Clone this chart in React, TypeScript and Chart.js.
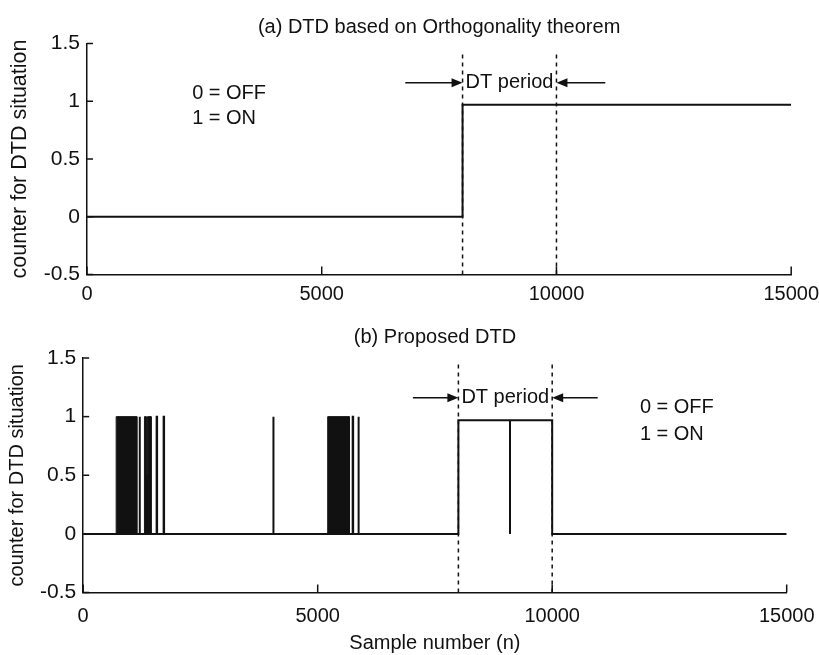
import React, { useEffect, useRef } from "react";
import { Chart, registerables } from "chart.js";
Chart.register(...registerables);

// ---------- shared axes ----------
const X_MIN = 0;
const X_MAX = 15000;
const X_STEP = 5000;
const Y_MIN = -0.5;
const Y_MAX = 1.5;
const Y_STEP = 0.5;

// ---------- (a) DTD based on Orthogonality theorem ----------
const titleA = "(a) DTD based on Orthogonality theorem";
const stepAtA = 8000;
const offLevelA = 0;
const onLevelA = 0.97;

// ---------- (b) Proposed DTD ----------
const titleB = "(b) Proposed DTD";
// isolated ON pulses (start, end, level)
const pulseStart = [1200, 1566, 1715, 4050, 5746, 5866, 8000, 9100];
const pulseEnd = [1210, 1576, 1725, 4060, 5756, 5876, 9100, 10000];
const pulseLevel = [1, 1, 1, 1, 1, 1, 0.97, 0.97];
// dense toggling bursts (appear as solid blocks)
const burstStart = [703, 1306, 1342, 1370, 5213];
const burstEnd = [1144, 1342, 1370, 1448, 5673];
const burstLevel = [1, 1, 0.5, 1, 1];

// ---------- annotations ----------
const dtStart = 8000;
const dtEnd = 10000;
const dashTopA = 1.41;
const dashTopB = 1.45;
const arrowYA = 1.16;
const arrowYB = 1.16;
const arrowTailA = [6780, 11040];
const arrowTailB = [7030, 10970];
const legendPosA = [2240, 1.07, 0.85];
const legendPosB = [11870, 1.08, 0.845];
const legendLines = ["0 = OFF", "1 = ON"];
const dtLabel = "DT period";
const yTitle = "counter for DTD situation";
const xTitle = "Sample number (n)";

const FONT = "'Liberation Sans', Arial, Helvetica, sans-serif";
const INK = "#111";

function pts(xs: number[], ys: number[]) {
  return xs.map((x, i) => ({ x, y: ys[i] }));
}

function dashDataset(x: number, top: number) {
  return {
    data: [{ x, y: Y_MIN }, { x, y: top }],
    borderColor: INK,
    borderWidth: 1.5,
    borderDash: [4, 4],
    pointRadius: 0,
    fill: false,
  };
}

function decorPlugin(arrowY: number, tails: number[], legend: number[]) {
  return {
    id: "decor",
    afterDraw(chart: any) {
      const { ctx, chartArea, scales } = chart;
      const xs = scales.x;
      const ys = scales.y;
      ctx.save();
      ctx.strokeStyle = INK;
      ctx.fillStyle = INK;
      ctx.lineWidth = 1.5;
      // inward ticks (MATLAB style)
      ys.ticks.forEach((t: any) => {
        const py = ys.getPixelForValue(t.value);
        ctx.beginPath();
        ctx.moveTo(chartArea.left, py);
        ctx.lineTo(chartArea.left + 6, py);
        ctx.stroke();
      });
      xs.ticks.forEach((t: any) => {
        const px = xs.getPixelForValue(t.value);
        ctx.beginPath();
        ctx.moveTo(px, chartArea.bottom);
        ctx.lineTo(px, chartArea.bottom - 8);
        ctx.stroke();
      });
      // arrows
      const py = ys.getPixelForValue(arrowY);
      const p0 = xs.getPixelForValue(dtStart);
      const p1 = xs.getPixelForValue(dtEnd);
      const a0 = xs.getPixelForValue(tails[0]);
      const a1 = xs.getPixelForValue(tails[1]);
      ctx.lineWidth = 1.5;
      ctx.beginPath();
      ctx.moveTo(a0, py);
      ctx.lineTo(p0 - 8, py);
      ctx.moveTo(p1 + 8, py);
      ctx.lineTo(a1, py);
      ctx.stroke();
      ctx.beginPath();
      ctx.moveTo(p0, py);
      ctx.lineTo(p0 - 11, py - 4.5);
      ctx.lineTo(p0 - 11, py + 4.5);
      ctx.closePath();
      ctx.fill();
      ctx.beginPath();
      ctx.moveTo(p1, py);
      ctx.lineTo(p1 + 11, py - 4.5);
      ctx.lineTo(p1 + 11, py + 4.5);
      ctx.closePath();
      ctx.fill();
      // texts
      ctx.font = `20px ${FONT}`;
      ctx.textBaseline = "middle";
      ctx.textAlign = "center";
      ctx.fillText(dtLabel, (p0 + p1) / 2, py);
      ctx.textAlign = "left";
      const lx = xs.getPixelForValue(legend[0]);
      ctx.fillText(legendLines[0], lx, ys.getPixelForValue(legend[1]));
      ctx.fillText(legendLines[1], lx, ys.getPixelForValue(legend[2]));
      ctx.restore();
    },
  };
}

function baseOptions(
  title: string,
  titlePad: any,
  layoutPad: any,
  xTickPad: number,
  withXTitle: boolean,
  yTitleSize: number
) {
  return {
    responsive: false,
    animation: false,
    devicePixelRatio: 1,
    layout: { padding: layoutPad },
    plugins: {
      legend: { display: false },
      tooltip: { enabled: false },
      title: {
        display: true,
        text: title,
        color: INK,
        font: { family: FONT, size: 20, weight: "normal" },
        padding: titlePad,
        fullSize: false,
      },
    },
    elements: { line: { tension: 0 } },
    scales: {
      x: {
        type: "linear",
        min: X_MIN,
        max: X_MAX,
        grid: { display: false, drawTicks: false },
        border: { display: true, color: INK, width: 1.5 },
        ticks: {
          stepSize: X_STEP,
          color: INK,
          padding: xTickPad,
          maxRotation: 0,
          font: { family: FONT, size: 20 },
          callback: (v: any) => String(v),
        },
        title: {
          display: withXTitle,
          text: xTitle,
          color: INK,
          font: { family: FONT, size: 20 },
          padding: { top: -8.5, bottom: 0 },
        },
      },
      y: {
        type: "linear",
        min: Y_MIN,
        max: Y_MAX,
        grid: { display: false, drawTicks: false },
        border: { display: true, color: INK, width: 1.5 },
        ticks: {
          stepSize: Y_STEP,
          color: INK,
          padding: 7,
          font: { family: FONT, size: 21 },
          callback: (v: any) => String(v),
        },
        title: {
          display: true,
          text: yTitle,
          color: INK,
          font: { family: FONT, size: yTitleSize },
          padding: 4,
        },
      },
    },
  };
}

function TopChart() {
  const ref = useRef<HTMLCanvasElement>(null);
  useEffect(() => {
    const signal = pts(
      [X_MIN, stepAtA, stepAtA, X_MAX],
      [offLevelA, offLevelA, onLevelA, onLevelA]
    );
    const chart = new Chart(ref.current as HTMLCanvasElement, {
      type: "line",
      data: {
        datasets: [
          dashDataset(dtStart, dashTopA),
          dashDataset(dtEnd, dashTopA),
          {
            data: signal,
            borderColor: INK,
            borderWidth: 2,
            pointRadius: 0,
            fill: false,
          },
        ],
      } as any,
      options: baseOptions(
        titleA,
        { top: 15, bottom: 4.5 },
        { left: 3, right: 18, top: 0, bottom: 15.5 },
        8,
        false,
        21.5
      ) as any,
      plugins: [decorPlugin(arrowYA, arrowTailA, legendPosA)],
    });
    return () => chart.destroy();
  }, []);
  return <canvas ref={ref} width={827} height={330} style={{ position: "absolute", left: 0, top: 0 }} />;
}

function BottomChart() {
  const ref = useRef<HTMLCanvasElement>(null);
  useEffect(() => {
    const sx: number[] = [X_MIN];
    const sy: number[] = [0];
    pulseStart.forEach((s, i) => {
      sx.push(s, s, pulseEnd[i], pulseEnd[i]);
      sy.push(0, pulseLevel[i], pulseLevel[i], 0);
    });
    sx.push(X_MAX);
    sy.push(0);
    const bursts = burstStart.map((s, i) => ({
      data: pts([s, s, burstEnd[i], burstEnd[i]], [0, burstLevel[i], burstLevel[i], 0]),
      borderColor: INK,
      backgroundColor: INK,
      borderWidth: 1,
      pointRadius: 0,
      fill: "origin",
    }));
    const chart = new Chart(ref.current as HTMLCanvasElement, {
      type: "line",
      data: {
        datasets: [
          dashDataset(dtStart, dashTopB),
          dashDataset(dtEnd, dashTopB),
          ...bursts,
          {
            data: pts(sx, sy),
            borderColor: INK,
            borderWidth: 2,
            pointRadius: 0,
            fill: false,
          },
        ],
      } as any,
      options: baseOptions(
        titleB,
        { top: 10, bottom: 9 },
        { left: 1, right: 23, top: 0, bottom: 0 },
        11.5,
        true,
        20
      ) as any,
      plugins: [decorPlugin(arrowYB, arrowTailB, legendPosB)],
    });
    return () => chart.destroy();
  }, []);
  return <canvas ref={ref} width={826} height={340} style={{ position: "absolute", left: 0, top: 315 }} />;
}

export default function App() {
  return (
    <div style={{ position: "absolute", left: 0, top: 0, width: 819, height: 655, background: "#fff", overflow: "hidden" }}>
      <TopChart />
      <BottomChart />
    </div>
  );
}
